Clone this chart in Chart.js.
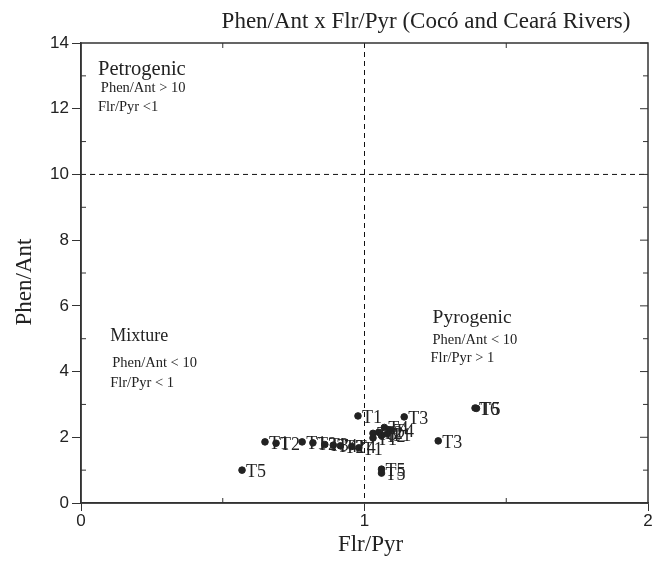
<!DOCTYPE html>
<html>
<head>
<meta charset="utf-8">
<script src="https://cdn.jsdelivr.net/npm/chart.js@4.4.1/dist/chart.umd.min.js"></script>
<style>
  html, body { margin: 0; padding: 0; background: #fff; }
  #wrap { width: 665px; height: 569px; }
</style>
</head>
<body>
<div id="wrap"><canvas id="chart" width="665" height="569"></canvas></div>
<script>
// Phen/Ant x Flr/Pyr diagnostic ratios, Cocó and Ceará rivers

const flrPyr = [0.977, 1.14, 1.39, 1.395, 1.26,
  1.07, 1.09, 1.05, 1.03, 1.06, 1.03, 1.08,
  0.649, 0.688, 0.78, 0.818, 0.86, 0.89, 0.915, 0.955, 0.98,
  0.568, 1.06, 1.06];
const phenAnt = [2.65, 2.62, 2.89, 2.88, 1.89,
  2.30, 2.22, 2.15, 2.12, 2.05, 1.98, 2.10,
  1.86, 1.82, 1.86, 1.83, 1.78, 1.76, 1.74, 1.72, 1.68,
  1.00, 1.03, 0.91];
const sampleLabels = ['T1', 'T3', 'T6', 'T5', 'T3',
  'T4', 'T4', 'T2', 'T3', 'T2', 'T1', 'T1',
  'T1', 'T2', 'T1', 'T2', 'T3', 'T4', 'T2', 'T4', 'T1',
  'T5', 'T5', 'T5'];

const xTicks = [0, 1, 2];
const yTicks = [0, 2, 4, 6, 8, 10, 12, 14];

// region notes: [x, y, text, size]
const notes = [
  [0.06, 13.19, 'Petrogenic', 20.5],
  [0.07, 12.62, 'Phen/Ant > 10', 14.5],
  [0.06, 12.04, 'Flr/Pyr <1', 14.5],
  [0.103, 5.07, 'Mixture', 18],
  [0.11, 4.25, 'Phen/Ant < 10', 14.5],
  [0.103, 3.65, 'Flr/Pyr < 1', 14.5],
  [1.24, 5.62, 'Pyrogenic', 19.5],
  [1.24, 4.97, 'Phen/Ant < 10', 14.5],
  [1.233, 4.42, 'Flr/Pyr > 1', 14.5]
];

const serif = '"Liberation Serif", "Times New Roman", serif';
const sans = '"Liberation Sans", Arial, sans-serif';
const ink = '#222';

const points = flrPyr.map((x, i) => ({ x: x, y: phenAnt[i] }));

const decorPlugin = {
  id: 'decor',
  afterDatasetsDraw(chart) {
    const ctx = chart.ctx;
    const xs = chart.scales.x, ys = chart.scales.y;
    const a = chart.chartArea;
    ctx.save();

    // dashed division lines
    ctx.strokeStyle = '#111';
    ctx.lineWidth = 1;
    ctx.setLineDash([5, 4]);
    ctx.beginPath();
    ctx.moveTo(xs.getPixelForValue(1), a.top);
    ctx.lineTo(xs.getPixelForValue(1), a.bottom);
    ctx.moveTo(a.left, ys.getPixelForValue(10));
    ctx.lineTo(a.right, ys.getPixelForValue(10));
    ctx.stroke();
    ctx.setLineDash([]);

    // frame
    ctx.strokeStyle = '#333';
    ctx.lineWidth = 1.5;
    ctx.strokeRect(a.left, a.top, a.right - a.left, a.bottom - a.top);

    // minor ticks inside
    ctx.lineWidth = 1;
    ctx.beginPath();
    [0.5, 1.5].forEach(v => {
      const px = xs.getPixelForValue(v);
      ctx.moveTo(px, a.bottom); ctx.lineTo(px, a.bottom - 5);
      ctx.moveTo(px, a.top); ctx.lineTo(px, a.top + 5);
    });
    [1, 3, 5, 7, 9, 11, 13].forEach(v => {
      const py = ys.getPixelForValue(v);
      ctx.moveTo(a.left, py); ctx.lineTo(a.left + 5, py);
      ctx.moveTo(a.right, py); ctx.lineTo(a.right - 5, py);
    });
    yTicks.forEach(v => {
      const py = ys.getPixelForValue(v);
      ctx.moveTo(a.right, py); ctx.lineTo(a.right - 8, py);
    });
    ctx.stroke();

    // point labels
    ctx.fillStyle = ink;
    ctx.font = '18px ' + serif;
    ctx.textAlign = 'left';
    ctx.textBaseline = 'middle';
    const meta = chart.getDatasetMeta(0);
    meta.data.forEach((el, i) => {
      ctx.fillText(sampleLabels[i], el.x + 4, el.y + 2);
    });

    // region notes
    notes.forEach(n => {
      ctx.font = n[3] + 'px ' + serif;
      ctx.fillText(n[2], xs.getPixelForValue(n[0]), ys.getPixelForValue(n[1]));
    });

    // title and axis titles
    ctx.font = '23px ' + serif;
    ctx.textAlign = 'center';
    ctx.fillText('Phen/Ant x Flr/Pyr (Cocó and Ceará Rivers)', a.left + 345, 22);
    ctx.fillText('Flr/Pyr', (a.left + a.right) / 2 + 6, a.bottom + 42);
    ctx.translate(25, (a.top + a.bottom) / 2 + 9);
    ctx.rotate(-Math.PI / 2);
    ctx.fillText('Phen/Ant', 0, 0);
    ctx.restore();
  }
};

new Chart(document.getElementById('chart'), {
  type: 'scatter',
  data: {
    datasets: [{
      data: points,
      backgroundColor: ink,
      borderColor: ink,
      pointRadius: 3.3,
      pointHoverRadius: 3.3
    }]
  },
  options: {
    responsive: false,
    animation: false,
    layout: { padding: { top: 43, right: 17, left: 0, bottom: 0 } },
    plugins: { legend: { display: false }, tooltip: { enabled: false } },
    scales: {
      x: {
        type: 'linear', min: 0, max: 2,
        afterFit: s => { s.height = 66; },
        afterBuildTicks: s => { s.ticks = xTicks.map(v => ({ value: v })); },
        grid: { display: true, drawOnChartArea: false, drawTicks: true, tickLength: 8, tickColor: '#333', color: '#333' },
        border: { display: true, color: '#333', width: 1.5 },
        ticks: { color: ink, font: { family: sans, size: 17 }, padding: 0 },
        title: { display: false }
      },
      y: {
        type: 'linear', min: 0, max: 14,
        afterFit: s => { s.width = 81; },
        afterBuildTicks: s => { s.ticks = yTicks.map(v => ({ value: v })); },
        grid: { display: true, drawOnChartArea: false, drawTicks: true, tickLength: 9, tickColor: '#333', color: '#333' },
        border: { display: true, color: '#333', width: 1.5 },
        ticks: { color: ink, font: { family: sans, size: 17 }, padding: 3 },
        title: { display: false }
      }
    }
  },
  plugins: [decorPlugin]
});
</script>
</body>
</html>
